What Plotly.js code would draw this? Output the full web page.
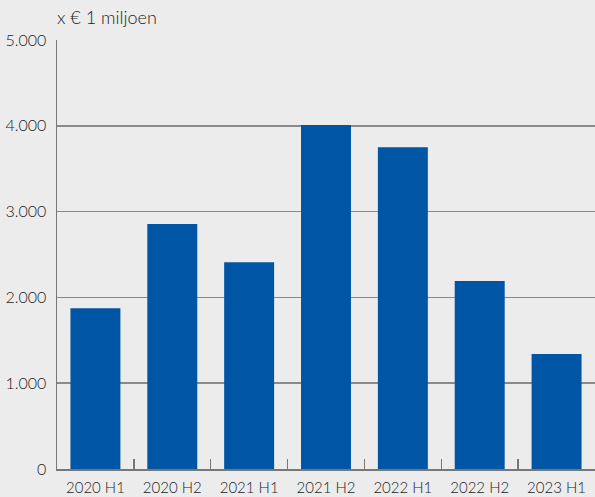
<!DOCTYPE html>
<html><head><meta charset="utf-8">
<script src="https://cdn.plot.ly/plotly-3.0.1.min.js"></script>
<style>html,body{margin:0;padding:0;background:#ececec;}</style>
</head><body>
<div id="chart" style="width:595px;height:497px;"></div>
<script>
const categories = ["2020 H1","2020 H2","2021 H1","2021 H2","2022 H1","2022 H2","2023 H1"];
const values = [1875, 2855, 2410, 4010, 3750, 2190, 1340];
const yTicks = [0, 1000, 2000, 3000, 4000, 5000];

const trace = {
  type: "bar", x: categories, y: values,
  marker: {color: "#0055a5"}, hoverinfo: "x+y"
};
const layout = {
  width: 595, height: 497,
  margin: {l: 57, r: 0, t: 40, b: 28},
  paper_bgcolor: "#ececec", plot_bgcolor: "#ececec",
  separators: ",.",
  bargap: 0.35,
  font: {family: "Lato, 'Open Sans', sans-serif", size: 15, color: "#222", weight: 300},
  showlegend: false,
  xaxis: {
    type: "category", showgrid: false, showline: true, linecolor: "#777", linewidth: 1.5,
    ticks: "inside", tickson: "boundaries", ticklen: 10, tickcolor: "#777", tickwidth: 1.5,
    tickfont: {size: 15, color: "#222", weight: 300}, range: [-0.5, 6.5], ticklabelstandoff: 4
  },
  yaxis: {
    range: [0, 5000], tickvals: yTicks, tickformat: ",d",
    showgrid: true, gridcolor: "#8a8a8a", gridwidth: 1.5,
    showline: true, linecolor: "#777", linewidth: 1.5,
    ticks: "", tickfont: {size: 16, color: "#222", weight: 300}, zeroline: false, ticklabelstandoff: 6
  },
  annotations: [{
    text: "x € 1 miljoen", xref: "paper", yref: "paper", x: 0, y: 1, xanchor: "left", yanchor: "bottom",
    yshift: 10, xshift: -2, showarrow: false, font: {size: 18, color: "#222", weight: 300}
  }]
};
Plotly.newPlot("chart", [trace], layout, {displayModeBar: false, staticPlot: true});
</script>
</body></html>
